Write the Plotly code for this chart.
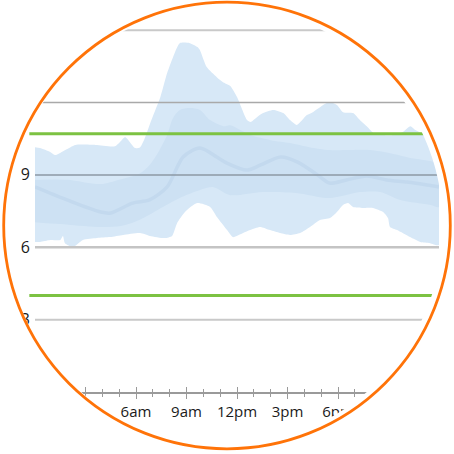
import numpy as np
import plotly.graph_objects as go

# ---------------- data ----------------
# 5th-95th percentile band, upper edge
outer_hi_h = [0, 0.3, 0.9, 1.2, 1.8, 2.4, 3.6, 4.75, 5.15, 5.35, 5.55, 5.95, 6.25, 6.55, 6.85, 7.15,
              7.45, 7.85, 8.2, 8.6, 9.2, 9.65, 9.8, 10.2, 10.8, 11.15, 11.6, 12.0, 12.6, 12.8, 13.2,
              13.55, 14.15, 14.75, 15.15, 15.55, 16.15, 16.5, 17.1, 17.5, 17.95, 18.3, 18.9, 19.3,
              19.75, 20.1, 20.7, 21.3, 21.85, 22.3, 22.6, 23.2, 24]
outer_hi = [10.15, 10.11, 9.95, 9.82, 10.03, 10.24, 10.24, 10.19, 10.44, 10.57, 10.44, 10.11, 10.15,
            10.57, 11.15, 11.69, 12.23, 13.22, 13.88, 14.46, 14.46, 14.30, 14.17, 13.47, 13.05, 12.85,
            12.68, 12.23, 11.27, 11.19, 11.40, 11.56, 11.69, 11.56, 11.27, 11.07, 11.48, 11.60, 11.89,
            12.02, 11.89, 11.60, 11.56, 11.27, 10.98, 10.74, 10.65, 10.65, 10.78, 11.02, 10.86, 10.65,
            10.44]
# 5th-95th percentile band, lower edge
outer_lo_h = [0, 0.3, 0.9, 1.5, 1.66, 1.78, 2.26, 2.85, 3.68, 4.46, 5.23, 6.24, 6.83, 7.72, 8.14,
              8.44, 8.91, 9.63, 10.4, 10.81, 11.41, 11.76, 12.36, 12.78, 13.37, 13.96, 14.56, 15.15,
              15.75, 16.34, 16.93, 17.53, 17.94, 18.3, 18.6, 18.89, 19.49, 20.08, 20.68, 20.97, 21.09,
              21.51, 22.28, 22.88, 23.47, 24]
outer_lo = [6.22, 6.22, 6.30, 6.30, 6.47, 6.17, 6.01, 6.30, 6.38, 6.42, 6.51, 6.59, 6.47, 6.38, 6.47,
            7.00, 7.46, 7.83, 7.67, 7.25, 6.71, 6.42, 6.59, 6.71, 6.84, 6.71, 6.59, 6.51, 6.59, 6.84,
            7.13, 7.21, 7.46, 7.75, 7.83, 7.67, 7.63, 7.63, 7.46, 7.21, 6.84, 6.71, 6.42, 6.22, 6.17,
            6.09]
# 25th-75th percentile band
inner_hi_h = [0, 1.9, 3.9, 5.0, 6.2, 6.8, 7.4, 7.85, 8.2, 8.6, 9.2, 9.8, 10.4, 11.2, 11.6, 12.8,
              14.0, 15.15, 16.3, 17.5, 18.7, 19.9, 21.1, 22.3, 24]
inner_hi = [8.80, 8.80, 8.62, 8.80, 9.05, 9.40, 10.03, 10.65, 11.36, 11.69, 11.77, 11.69, 11.27, 11.02,
            11.06, 10.65, 10.44, 10.32, 10.15, 10.03, 10.03, 10.03, 9.90, 9.70, 9.40]
inner_lo_h = [0, 1.5, 3.7, 5.1, 6.2, 7.6, 8.6, 9.8, 10.6, 11.6, 13.5, 15.5, 17.5, 19.3, 20.5, 21.7,
              23.5, 24]
inner_lo = [7.04, 6.96, 6.84, 6.88, 7.13, 7.67, 8.04, 8.37, 8.49, 8.16, 8.29, 8.25, 8.04, 8.29, 8.29,
            7.96, 7.75, 7.67]
# median
median_h = [0, 1.9, 3.9, 4.5, 5.8, 6.8, 7.85, 8.8, 9.8, 10.8, 11.4, 12.6, 13.4, 14.6, 15.6, 16.8,
            17.5, 18.5, 19.7, 20.9, 22.1, 23.3, 24]
median = [8.50, 7.96, 7.46, 7.42, 7.83, 7.96, 8.50, 9.74, 10.11, 9.74, 9.49, 9.20, 9.41, 9.74, 9.53,
          8.99, 8.66, 8.79, 8.95, 8.79, 8.70, 8.58, 8.50]

target_low, target_high = 4.0, 10.7
grid_vals = [3, 6, 9, 12, 15]
y_ticks = [3, 6, 9, 12, 15]
y_labels = ["3", "6", "9", "12", "15"]
x_ticks = [0, 3, 6, 9, 12, 15, 18, 21, 24]
x_labels = ["12am", "3am", "6am", "9am", "12pm", "3pm", "6pm", "9pm", "12am"]

# ---------------- figure ----------------
W = H = 454
L, R, T, B = 35, 15, 6, 62
PW, PH = W - L - R, H - T - B


def px2paper(px, py):
    return (px - L) / PW, (H - B - py) / PH


fig = go.Figure()
fig.add_trace(go.Scatter(x=outer_hi_h + outer_lo_h[::-1], y=outer_hi + outer_lo[::-1],
                         fill="toself", fillcolor="#d7e8f7", mode="lines",
                         line=dict(width=0, shape="spline", smoothing=0.6), hoverinfo="skip"))
fig.add_trace(go.Scatter(x=inner_hi_h + inner_lo_h[::-1], y=inner_hi + inner_lo[::-1],
                         fill="toself", fillcolor="#cde1f3", mode="lines",
                         line=dict(width=0, shape="spline", smoothing=0.8), hoverinfo="skip"))
fig.add_trace(go.Scatter(x=median_h, y=median, mode="lines",
                         line=dict(color="#c3d9ee", width=3.5, shape="spline", smoothing=0.8),
                         hoverinfo="skip"))

shapes = []
grid_style = {3: ("#c9c9c9", 2), 6: ("#c4c4c4", 2.5), 9: ("#8d99a5", 1.5),
              12: ("#a9a9a9", 1.5), 15: ("#c9c9c9", 2)}
for g in grid_vals:
    c, w = grid_style[g]
    shapes.append(dict(type="line", xref="x", yref="y", x0=0, x1=24, y0=g, y1=g,
                       line=dict(color=c, width=w), layer="above"))
for tv in (target_low, target_high):
    shapes.append(dict(type="line", xref="paper", yref="y", x0=-0.014, x1=1.0, y0=tv, y1=tv,
                       line=dict(color="#7cc242", width=3), layer="above"))

# circular mask (white outside the inner circle)
ccx, ccy, cr = 224, 226, 219
rect = [px2paper(-60, -60), px2paper(W + 60, -60), px2paper(W + 60, H + 60), px2paper(-60, H + 60)]
path = "M " + " L ".join(f"{a:.5f},{b:.5f}" for a, b in rect) + " Z "
ang = np.linspace(0, 2 * np.pi, 241)[:-1]
circ = [px2paper(ccx + cr * np.cos(t), ccy + cr * np.sin(t)) for t in ang]
path += "M " + " L ".join(f"{a:.5f},{b:.5f}" for a, b in circ) + " Z"
shapes.append(dict(type="path", xref="paper", yref="paper", path=path, fillcolor="white",
                   fillrule="evenodd", line=dict(width=0), layer="above"))
# orange ring
ocx, ocy, orr = 227, 225.5, 223.3
x0, y0 = px2paper(ocx - orr, ocy + orr)
x1, y1 = px2paper(ocx + orr, ocy - orr)
shapes.append(dict(type="circle", xref="paper", yref="paper", x0=x0, x1=x1, y0=y0, y1=y1,
                   line=dict(color="#ff7308", width=2.8), layer="above"))

font = dict(family="Open Sans, Noto Sans, sans-serif", size=15, color="#1a1a1a")
fig.update_layout(
    width=W, height=H, margin=dict(l=L, r=R, t=T, b=B, autoexpand=False),
    paper_bgcolor="white", plot_bgcolor="white", showlegend=False,
    shapes=shapes, font=font,
    xaxis=dict(range=[0, 24], tickvals=x_ticks, ticktext=x_labels, showgrid=False,
               zeroline=False, showline=True, linecolor="#9a9a9a", linewidth=1.5,
               ticks="outside", ticklen=5, tickwidth=1, tickcolor="#9a9a9a",
               minor=dict(dtick=1, tick0=0, ticks="outside", ticklen=3, tickcolor="#9a9a9a",
                          tickwidth=1, showgrid=False),
               tickfont=font, fixedrange=True, automargin=False),
    xaxis2=dict(range=[0, 24], overlaying="x", anchor="y", side="bottom", tickvals=x_ticks,
                showticklabels=False, showgrid=False, zeroline=False, showline=False,
                ticks="inside", ticklen=5, tickwidth=1, tickcolor="#9a9a9a",
                minor=dict(dtick=1, tick0=0, ticks="inside", ticklen=3, tickcolor="#9a9a9a",
                           tickwidth=1, showgrid=False)),
    yaxis=dict(range=[0, 16], tickvals=y_ticks, ticktext=y_labels, showgrid=False,
               zeroline=False, showline=False, ticks="", ticklabelstandoff=4,
               tickfont=dict(family="Open Sans, Noto Sans, sans-serif", size=16, color="#1a1a1a"),
               fixedrange=True, automargin=False),
)
# dummy trace so xaxis2 is drawn
fig.add_trace(go.Scatter(x=[0], y=[0], xaxis="x2", mode="markers", marker=dict(opacity=0),
                         hoverinfo="skip"))
fig.write_html("out.html", config={"displayModeBar": False},
               post_script="document.body.style.margin='0';document.body.style.padding='0';")
